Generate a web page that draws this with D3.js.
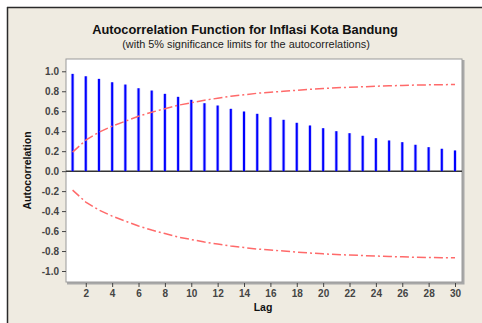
<!DOCTYPE html>
<html><head><meta charset="utf-8">
<script src="https://cdn.jsdelivr.net/npm/d3@7"></script>
<style>html,body{margin:0;padding:0;background:#fff;}svg{display:block;}</style>
</head><body>
<script>
const lags = d3.range(1, 31);
const acf = [0.974,0.95,0.924,0.89,0.867,0.83,0.807,0.774,0.744,0.714,0.68,0.657,0.624,0.597,0.574,0.54,0.514,0.484,0.457,0.43,0.40,0.38,0.354,0.33,0.307,0.29,0.264,0.24,0.224,0.207];
const upperLimit = [0.19,0.31,0.39,0.45,0.50,0.55,0.59,0.625,0.66,0.685,0.71,0.73,0.75,0.765,0.78,0.79,0.80,0.81,0.82,0.828,0.835,0.84,0.845,0.85,0.855,0.858,0.862,0.864,0.866,0.867];
const lowerLimit = [-0.19,-0.31,-0.39,-0.45,-0.50,-0.55,-0.59,-0.625,-0.66,-0.685,-0.71,-0.73,-0.75,-0.765,-0.78,-0.79,-0.80,-0.81,-0.82,-0.828,-0.835,-0.84,-0.845,-0.85,-0.855,-0.858,-0.862,-0.864,-0.866,-0.867];
const yTicks = [-1.0,-0.8,-0.6,-0.4,-0.2,0.0,0.2,0.4,0.6,0.8,1.0];
const xTicks = [2,4,6,8,10,12,14,16,18,20,22,24,26,28,30];
const title = "Autocorrelation Function for Inflasi Kota Bandung";
const subtitle = "(with 5% significance limits for the autocorrelations)";

const W = 482, H = 323;
const svg = d3.select("body").append("svg").attr("width", W).attr("height", H);
const font = "'Liberation Sans', Arial, sans-serif";

// outer panel
svg.append("rect").attr("x", 7).attr("y", 7).attr("width", W).attr("height", H).attr("fill", "#efebe1");
svg.append("line").attr("x1", 7).attr("x2", W).attr("y1", 7.5).attr("y2", 7.5).attr("stroke", "#2a2a2a").attr("stroke-width", 1.5);
svg.append("line").attr("x1", 7.5).attr("x2", 7.5).attr("y1", 7).attr("y2", H).attr("stroke", "#2a2a2a").attr("stroke-width", 1.5);

const plot = {l: 66, t: 59, r: 462, b: 282};
const x = d3.scaleLinear().domain([0.5, 30.53]).range([plot.l, plot.r]);
const y = d3.scaleLinear().domain([-1.11, 1.123]).range([plot.b, plot.t]);

// plot shadow + area
svg.append("rect").attr("x", plot.l + 1).attr("y", plot.t + 1).attr("width", plot.r - plot.l + 1.5).attr("height", plot.b - plot.t + 1.5).attr("fill", "#a8a8a8");
svg.append("rect").attr("x", plot.l).attr("y", plot.t).attr("width", plot.r - plot.l).attr("height", plot.b - plot.t)
  .attr("fill", "#fff").attr("stroke", "#9a9a9a").attr("stroke-width", 1);

// title
function fitText(sel, target) {
  const w = sel.node().getComputedTextLength();
  const fs = parseFloat(sel.attr("font-size"));
  sel.attr("font-size", fs * target / w);
}
const t1 = svg.append("text").attr("x", 245).attr("y", 34).attr("text-anchor", "middle")
  .attr("font-family", font).attr("font-weight", "bold").attr("font-size", 12).attr("fill", "#111").text(title);
fitText(t1, 306);
const t2 = svg.append("text").attr("x", 246).attr("y", 47.5).attr("text-anchor", "middle")
  .attr("font-family", font).attr("font-size", 10).attr("fill", "#222").text(subtitle);
fitText(t2, 248);

// axes
const yAxis = d3.axisLeft(y).tickValues(yTicks).tickFormat(d3.format(".1f")).tickSize(4).tickPadding(3);
const gy = svg.append("g").attr("transform", `translate(${plot.l},0)`).call(yAxis);
const xAxis = d3.axisBottom(x).tickValues(xTicks).tickFormat(d3.format("d")).tickSize(4).tickPadding(3);
const gx = svg.append("g").attr("transform", `translate(0,${plot.b + 1})`).call(xAxis);
[gy, gx].forEach(g => {
  g.select(".domain").remove();
  g.selectAll(".tick line").attr("stroke", "#444").attr("stroke-width", 1);
  g.selectAll(".tick text").attr("font-family", font).attr("font-weight", "bold").attr("font-size", 10).attr("fill", "#444");
});
gy.selectAll(".tick text").text(d => d3.format(".1f")(d).replace("−", "-"));

// axis titles
svg.append("text").attr("x", 263).attr("y", 311).attr("text-anchor", "middle")
  .attr("font-family", font).attr("font-weight", "bold").attr("font-size", 10.5).attr("fill", "#111").text("Lag");
svg.append("text").attr("transform", `translate(31,${(plot.t + plot.b) / 2}) rotate(-90)`).attr("text-anchor", "middle")
  .attr("font-family", font).attr("font-weight", "bold").attr("font-size", 10.5).attr("fill", "#111").text("Autocorrelation");

// zero line
svg.append("line").attr("x1", plot.l).attr("x2", plot.r).attr("y1", y(0)).attr("y2", y(0)).attr("stroke", "#333").attr("stroke-width", 1.5);

// bars (halo + core)
const bars = svg.append("g");
bars.selectAll("line.halo").data(lags).join("line").attr("class", "halo")
  .attr("x1", d => x(d)).attr("x2", d => x(d)).attr("y1", y(0)).attr("y2", (d, i) => y(acf[i]))
  .attr("stroke", "#8080ff").attr("stroke-opacity", 0.45).attr("stroke-width", 3.5);
bars.selectAll("line.core").data(lags).join("line").attr("class", "core")
  .attr("x1", d => x(d)).attr("x2", d => x(d)).attr("y1", y(0)).attr("y2", (d, i) => y(acf[i]))
  .attr("stroke", "#0000ff").attr("stroke-width", 2);

// significance limits
const line = d3.line().x((d, i) => x(lags[i])).y(d => y(d));
[upperLimit, lowerLimit].forEach(arr => {
  svg.append("path").attr("d", line(arr)).attr("fill", "none")
    .attr("stroke", "#ff6a6a").attr("stroke-width", 1.5).attr("stroke-dasharray", "9,3,2,3");
});
</script>
</body></html>
